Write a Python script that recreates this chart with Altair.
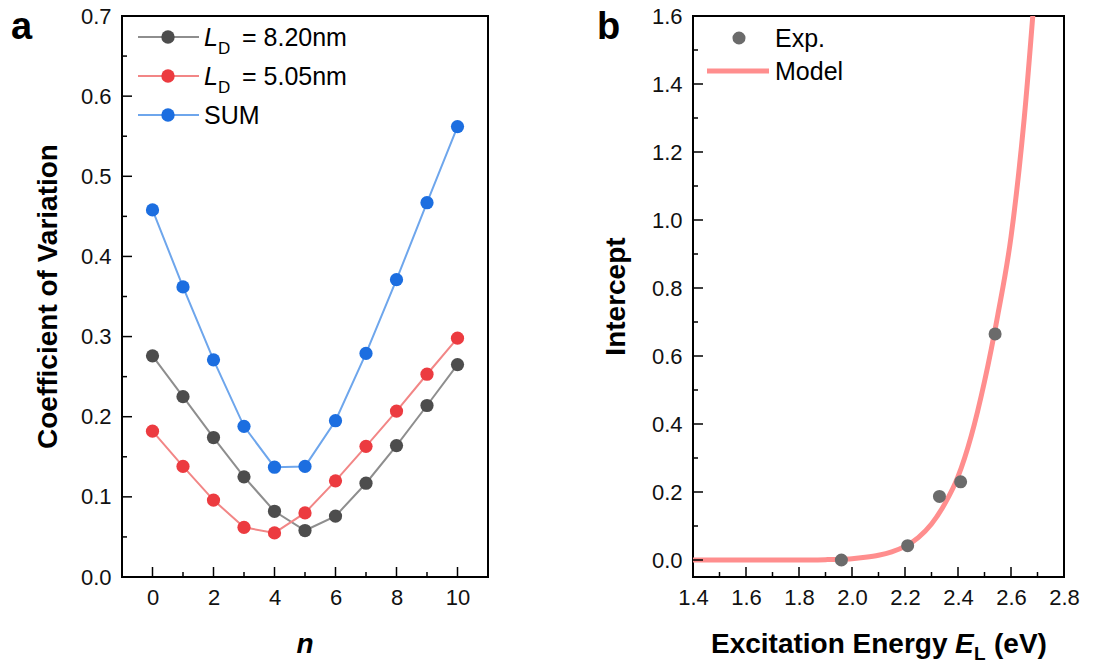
import altair as alt
import pandas as pd

FONT = "Liberation Sans"

# ---------------- data ----------------
n_vals = list(range(11))
series_names = ["LD = 8.20nm", "LD = 5.05nm", "SUM"]
cv_ld820 = [0.276, 0.225, 0.174, 0.125, 0.082, 0.058, 0.076, 0.117, 0.164, 0.214, 0.265]
cv_ld505 = [0.182, 0.138, 0.096, 0.062, 0.055, 0.080, 0.120, 0.163, 0.207, 0.253, 0.298]
cv_sum = [0.458, 0.362, 0.271, 0.188, 0.137, 0.138, 0.195, 0.279, 0.371, 0.467, 0.562]
marker_colors = ["#4d4d4d", "#ec3b40", "#1c6ee0"]
line_colors = ["#8e8e8e", "#f28686", "#6ea6ec"]

exp_E = [1.96, 2.21, 2.33, 2.41, 2.54]
exp_intercept = [0.0, 0.042, 0.187, 0.230, 0.665]
model_E = [1.40, 1.50, 1.60, 1.70, 1.80, 1.90, 1.95, 2.00, 2.05, 2.10, 2.15, 2.20,
           2.25, 2.30, 2.35, 2.40, 2.45, 2.50, 2.55, 2.60, 2.65, 2.70]
model_intercept = [0.0, 0.0, 0.0, 0.0, 0.0, 0.001, 0.002, 0.004, 0.008, 0.014, 0.024, 0.040,
                   0.066, 0.106, 0.165, 0.245, 0.365, 0.525, 0.720, 0.950, 1.300, 1.780]

a_x_major = [0, 2, 4, 6, 8, 10]
a_x_minor = [1, 3, 5, 7, 9]
a_y_major = [0.0, 0.1, 0.2, 0.3, 0.4, 0.5, 0.6, 0.7]
a_y_minor = [0.05, 0.15, 0.25, 0.35, 0.45, 0.55, 0.65]
b_x_major = [1.4, 1.6, 1.8, 2.0, 2.2, 2.4, 2.6, 2.8]
b_x_minor = [1.5, 1.7, 1.9, 2.1, 2.3, 2.5, 2.7]
b_y_major = [0.0, 0.2, 0.4, 0.6, 0.8, 1.0, 1.2, 1.4, 1.6]
b_y_minor = [0.1, 0.3, 0.5, 0.7, 0.9, 1.1, 1.3, 1.5]

# ---------------- geometry ----------------
WA, WB, H = 366, 371, 561
TICK_FS = 22
TITLE_FS = 28
LEG_FS = 25

one = pd.DataFrame({"k": [0]})


def txt(s, x, y, size, weight="normal", style="normal", angle=0, align="left",
        baseline="alphabetic", color="black"):
    return alt.Chart(one).mark_text(
        text=s, fontSize=size, fontWeight=weight, fontStyle=style, angle=angle,
        align=align, baseline=baseline, font=FONT, color=color
    ).encode(x=alt.value(x), y=alt.value(y))


def hrule(x1, x2, y, color, width):
    return alt.Chart(one).mark_rule(color=color, strokeWidth=width).encode(
        x=alt.value(x1), x2=alt.value(x2), y=alt.value(y))


def dot(x, y, color, size):
    return alt.Chart(one).mark_circle(color=color, size=size, opacity=1).encode(
        x=alt.value(x), y=alt.value(y))


ax_common = dict(title=None, ticks=False, domain=False, grid=False,
                 labelFlush=False, labelOverlap=False,
                 labelFont=FONT, labelFontSize=TICK_FS, labelColor="#111111")


def xticks(vals, field, xscale, xaxis, length):
    df = pd.DataFrame({field: vals})
    return alt.Chart(df).mark_rule(color="black", strokeWidth=1.5).encode(
        x=alt.X(f"{field}:Q", scale=xscale, axis=xaxis),
        y=alt.value(H), y2=alt.value(H - length))


def yticks(vals, field, yscale, yaxis, length):
    df = pd.DataFrame({field: vals})
    return alt.Chart(df).mark_rule(color="black", strokeWidth=1.5).encode(
        y=alt.Y(f"{field}:Q", scale=yscale, axis=yaxis),
        x=alt.value(0), x2=alt.value(length))


# ---------------- panel a ----------------
rows = []
for name, vals in zip(series_names, [cv_ld820, cv_ld505, cv_sum]):
    for n, v in zip(n_vals, vals):
        rows.append({"n": n, "cv": v, "series": name})
dfa = pd.DataFrame(rows)

xs_a = alt.Scale(domain=[-1, 11], nice=False, zero=False)
ys_a = alt.Scale(domain=[0, 0.7], nice=False)
xax_a = alt.Axis(values=a_x_major, format="d", labelPadding=10, **ax_common)
yax_a = alt.Axis(values=a_y_major, format=".1f", labelPadding=11, **ax_common)

xa = alt.X("n:Q", scale=xs_a, axis=xax_a)
ya = alt.Y("cv:Q", scale=ys_a, axis=yax_a)

lines_a = alt.Chart(dfa).mark_line(strokeWidth=2).encode(
    x=xa, y=ya,
    color=alt.Color("series:N", scale=alt.Scale(domain=series_names, range=line_colors), legend=None),
    detail="series:N")
pts_a = alt.Chart(dfa).mark_circle(size=175, opacity=1).encode(
    x=xa, y=ya,
    fill=alt.Fill("series:N", scale=alt.Scale(domain=series_names, range=marker_colors), legend=None))

leg_rows_y = [21, 60, 99]
legend_a = []
for i, yy in enumerate(leg_rows_y):
    legend_a.append(hrule(16, 77, yy, line_colors[i], 2))
    legend_a.append(dot(46, yy, marker_colors[i], 180))
legend_a += [
    txt("L", 82, 21 + 9, LEG_FS, style="italic"),
    txt("D", 96, 21 + 17, 17),
    txt("= 8.20nm", 120, 21 + 9, LEG_FS),
    txt("L", 82, 60 + 9, LEG_FS, style="italic"),
    txt("D", 96, 60 + 17, 17),
    txt("= 5.05nm", 120, 60 + 9, LEG_FS),
    txt("SUM", 82, 99 + 9, LEG_FS),
]

titles_a = [
    txt("a", -111, 23, 38, weight="bold"),
    txt("Coefficient of Variation", -65, H / 2, TITLE_FS, weight="bold", angle=270,
        align="center"),
    txt("n", WA / 2, H + 76, TITLE_FS, weight="bold", style="italic", align="center"),
]

panel_a = alt.layer(
    lines_a, pts_a,
    xticks(a_x_major, "n", xs_a, xax_a, 10), xticks(a_x_minor, "n", xs_a, xax_a, 5),
    yticks(a_y_major, "cv", ys_a, yax_a, 10), yticks(a_y_minor, "cv", ys_a, yax_a, 5),
    *legend_a, *titles_a
).properties(width=WA, height=H).resolve_scale(color="independent")

# ---------------- panel b ----------------
xs_b = alt.Scale(domain=[1.4, 2.8], nice=False, zero=False)
ys_b = alt.Scale(domain=[-0.05, 1.6], nice=False, zero=False)
xax_b = alt.Axis(values=b_x_major, format=".1f", labelPadding=10, **ax_common)
yax_b = alt.Axis(values=b_y_major, format=".1f", labelPadding=11, **ax_common)

df_model = pd.DataFrame({"E": model_E, "I": model_intercept})
df_exp = pd.DataFrame({"E": exp_E, "I": exp_intercept})

xb = alt.X("E:Q", scale=xs_b, axis=xax_b)
yb = alt.Y("I:Q", scale=ys_b, axis=yax_b)

model_line = alt.Chart(df_model).mark_line(color="#ff8e8e", strokeWidth=5, clip=True,
                                           interpolate="monotone").encode(x=xb, y=yb)
exp_pts = alt.Chart(df_exp).mark_circle(color="#6b6b6b", size=170, opacity=1).encode(x=xb, y=yb)

legend_b = [
    dot(46, 22, "#6b6b6b", 170),
    txt("Exp.", 82, 22 + 9, LEG_FS),
    hrule(14, 76, 55, "#ff8e8e", 5),
    txt("Model", 82, 55 + 9, LEG_FS),
]

# composite x-title: "Excitation Energy E_L (eV)"
tx0 = 18
titles_b = [
    txt("b", -96, 23, 38, weight="bold"),
    txt("Intercept", -68, H / 2, TITLE_FS, weight="bold", angle=270, align="center"),
    txt("Excitation Energy", tx0, H + 76, TITLE_FS, weight="bold"),
    txt("E", tx0 + 244, H + 76, TITLE_FS, weight="bold", style="italic"),
    txt("L", tx0 + 263, H + 83, 19, weight="bold"),
    txt("(eV)", tx0 + 283, H + 76, TITLE_FS, weight="bold"),
]

panel_b = alt.layer(
    model_line, exp_pts,
    xticks(b_x_major, "E", xs_b, xax_b, 10), xticks(b_x_minor, "E", xs_b, xax_b, 5),
    yticks(b_y_major, "I", ys_b, yax_b, 10), yticks(b_y_minor, "I", ys_b, yax_b, 5),
    *legend_b, *titles_b
).properties(width=WB, height=H)

chart = alt.hconcat(panel_a, panel_b, spacing=107).configure(
    padding={"left": 10, "top": 4, "right": 5, "bottom": 5}
).configure_view(stroke="black", strokeWidth=2)

chart.save("out.html", embed_options={"renderer": "svg", "actions": False})
